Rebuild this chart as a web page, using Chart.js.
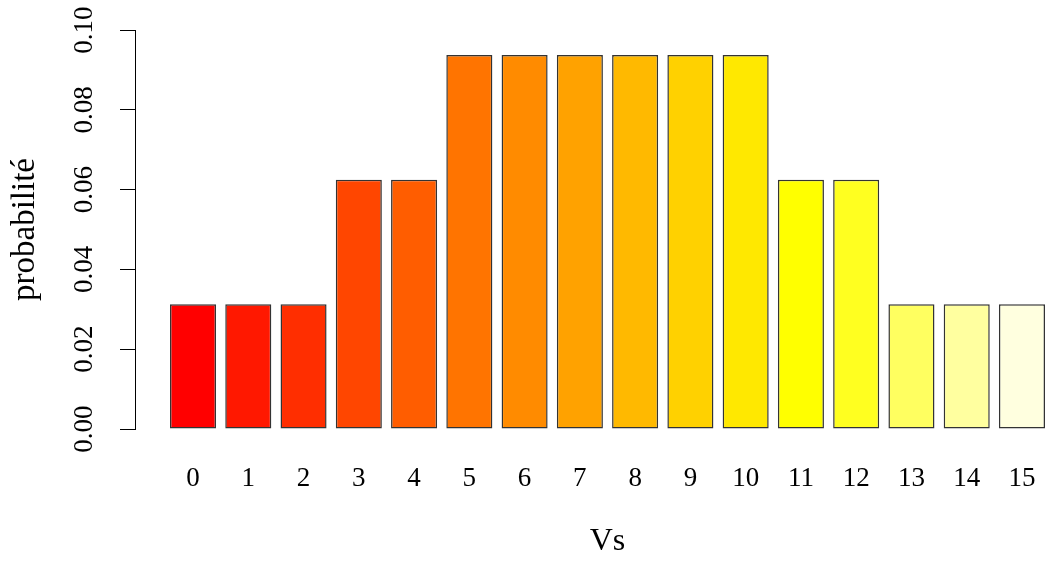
<!DOCTYPE html>
<html>
<head>
<meta charset="utf-8">
<script src="https://cdn.jsdelivr.net/npm/chart.js@4"></script>
<style>
  html, body { margin: 0; padding: 0; background: #fff; overflow: hidden; }
  /* plot region runs past the right edge, like the R original */
  #wrap { width: 1080px; height: 563px; }
</style>
</head>
<body>
<div id="wrap"><canvas id="chart"></canvas></div>
<script>
// Vs values and their probabilities (multiples of 1/32)
const categories = ['0', '1', '2', '3', '4', '5', '6', '7', '8', '9', '10', '11', '12', '13', '14', '15'];
const probabilities = [0.03125, 0.03125, 0.03125, 0.0625, 0.0625, 0.09375, 0.09375, 0.09375,
                       0.09375, 0.09375, 0.09375, 0.0625, 0.0625, 0.03125, 0.03125, 0.03125];
// heat.colors(16)
const barColors = ['#FF0000', '#FF1800', '#FF2E00', '#FF4600', '#FF5D00', '#FF7400', '#FF8B00', '#FFA200',
                   '#FFB900', '#FFD100', '#FFE800', '#FFFF00', '#FFFF20', '#FFFF60', '#FFFF9F', '#FFFFDF'];
const yTicks = [0, 0.02, 0.04, 0.06, 0.08, 0.10];

const serif = 'Liberation Serif';
Chart.defaults.color = '#000';

new Chart(document.getElementById('chart'), {
    type: 'bar',
    data: {
        datasets: [{
            data: categories.map((c, i) => ({ x: i, y: probabilities[i] })),
            backgroundColor: barColors,
            borderColor: '#333',
            borderWidth: 1.5,
            borderSkipped: false,
            categoryPercentage: 1,
            barPercentage: 1 / 1.2
        }]
    },
    options: {
        responsive: true,
        maintainAspectRatio: false,
        animation: false,
        layout: { padding: { top: 30, right: 0, bottom: 0, left: 0 } },
        plugins: { legend: { display: false }, tooltip: { enabled: false } },
        scales: {
            x: {
                type: 'linear',
                offset: false,
                min: -1.05,
                max: 16.05,
                afterBuildTicks: s => { s.ticks = categories.map((c, i) => ({ value: i })); },
                afterFit: s => { s.height = 134; },
                grid: { display: true, drawOnChartArea: false, drawTicks: false },
                border: { display: false },
                ticks: {
                    autoSkip: false,
                    maxRotation: 0,
                    padding: 34,
                    font: { family: serif, size: 27 },
                    callback: (v, i) => categories[i]
                },
                title: {
                    display: true,
                    text: 'Vs',
                    font: { family: serif, size: 32 },
                    padding: { top: 0, bottom: 2 }
                }
            },
            y: {
                min: 0,
                max: 0.1,
                afterBuildTicks: s => { s.ticks = yTicks.map(v => ({ value: v })); },
                afterFit: s => { s.width = 135; },
                grid: { drawOnChartArea: false, tickLength: 15, color: '#000', lineWidth: 1 },
                border: { display: true, color: '#000', width: 1 },
                ticks: {
                    minRotation: 90,
                    maxRotation: 90,
                    crossAlign: 'center',
                    padding: 11,
                    font: { family: serif, size: 27 },
                    callback: v => v.toFixed(2)
                },
                title: {
                    display: true,
                    text: 'probabilité',
                    font: { family: serif, size: 33 },
                    padding: { top: 6, bottom: 0 }
                }
            }
        }
    }
});
</script>
</body>
</html>
